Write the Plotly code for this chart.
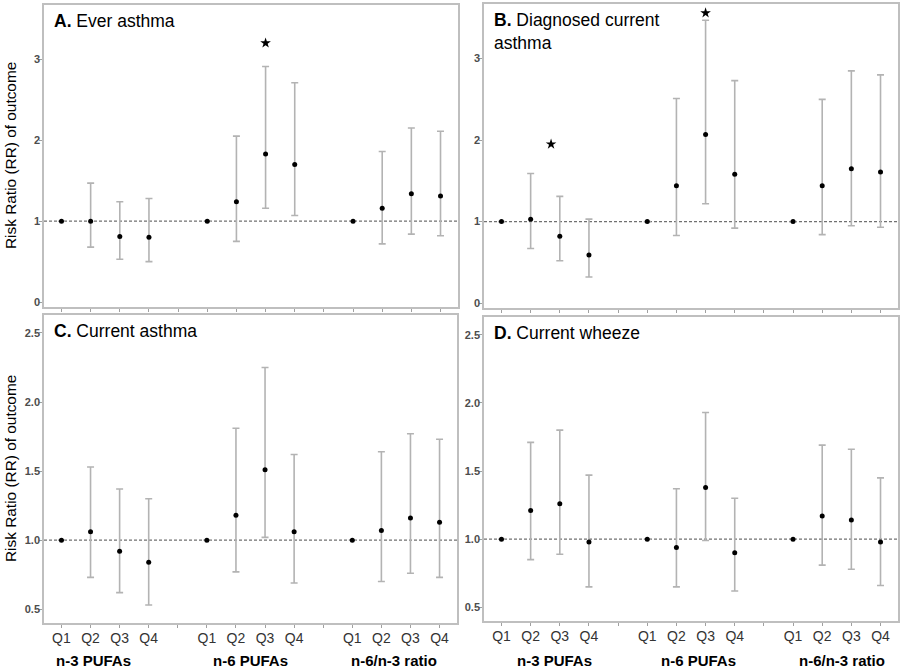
"""Risk ratios of asthma outcomes by PUFA quartile, four panels."""
import plotly.graph_objects as go

# category positions: 3 groups of 4 quartiles, with an empty slot between groups
positions = [1, 2, 3, 4, 6, 7, 8, 9, 11, 12, 13, 14]
quartiles = ["Q1", "Q2", "Q3", "Q4"]
group_labels = ["n-3 PUFAs", "n-6 PUFAs", "n-6/n-3 ratio"]

# A. Ever asthma
a_rr = [1.0, 1.0, 0.81, 0.80, 1.0, 1.24, 1.83, 1.70, 1.0, 1.16, 1.34, 1.31]
a_lo = [None, 0.68, 0.53, 0.50, None, 0.75, 1.16, 1.07, None, 0.72, 0.84, 0.82]
a_hi = [None, 1.47, 1.24, 1.28, None, 2.05, 2.91, 2.71, None, 1.86, 2.15, 2.11]
a_star_x = [8]
a_star_y = [3.20]

# B. Diagnosed current asthma
b_rr = [1.0, 1.03, 0.82, 0.59, 1.0, 1.44, 2.07, 1.58, 1.0, 1.44, 1.65, 1.61]
b_lo = [None, 0.67, 0.52, 0.32, None, 0.83, 1.22, 0.92, None, 0.84, 0.95, 0.93]
b_hi = [None, 1.59, 1.31, 1.03, None, 2.51, 3.47, 2.73, None, 2.50, 2.85, 2.80]
b_star_x = [2.7, 8]
b_star_y = [1.95, 3.56]

# C. Current asthma
c_rr = [1.0, 1.06, 0.92, 0.84, 1.0, 1.18, 1.51, 1.06, 1.0, 1.07, 1.16, 1.13]
c_lo = [None, 0.73, 0.62, 0.53, None, 0.77, 1.02, 0.69, None, 0.70, 0.76, 0.73]
c_hi = [None, 1.53, 1.37, 1.30, None, 1.81, 2.25, 1.62, None, 1.64, 1.77, 1.73]

# D. Current wheeze
d_rr = [1.0, 1.21, 1.26, 0.98, 1.0, 0.94, 1.38, 0.90, 1.0, 1.17, 1.14, 0.98]
d_lo = [None, 0.85, 0.89, 0.65, None, 0.65, 0.99, 0.62, None, 0.81, 0.78, 0.66]
d_hi = [None, 1.71, 1.80, 1.47, None, 1.37, 1.93, 1.30, None, 1.69, 1.66, 1.45]

W, H = 900, 668


def px_x(x):
    return x / W


def px_y(y):
    return 1 - y / H


panels = [
    # name, rr, lo, hi, stars, title, x-domain px, y-domain px, y range, ticks
    ("A", a_rr, a_lo, a_hi, (a_star_x, a_star_y), "<b>A.</b> Ever asthma",
     (44, 458), (5, 307), [-0.06, 3.67], [0, 1, 2, 3], ["0", "1", "2", "3"]),
    ("B", b_rr, b_lo, b_hi, (b_star_x, b_star_y), "<b>B.</b> Diagnosed current<br>asthma",
     (484, 898), (4, 308), [-0.06, 3.67], [0, 1, 2, 3], ["0", "1", "2", "3"]),
    ("C", c_rr, c_lo, c_hi, None, "<b>C.</b> Current asthma",
     (44, 457), (315, 623), [0.40, 2.63], [0.5, 1, 1.5, 2, 2.5], ["0.5", "1.0", "1.5", "2.0", "2.5"]),
    ("D", d_rr, d_lo, d_hi, None, "<b>D.</b> Current wheeze",
     (484, 898), (317, 621), [0.40, 2.63], [0.5, 1, 1.5, 2, 2.5], ["0.5", "1.0", "1.5", "2.0", "2.5"]),
]

fig = go.Figure()
font = "Liberation Sans, Arial, sans-serif"
border = "#bfbfbf"

for i, (name, rr, lo, hi, stars, title, xd, yd, yr, yt, ytt) in enumerate(panels):
    n = "" if i == 0 else str(i + 1)
    xa, ya = "x" + n, "y" + n
    up = [None if h is None else h - r for h, r in zip(hi, rr)]
    down = [None if l is None else r - l for l, r in zip(lo, rr)]

    # reference line at RR = 1
    fig.add_trace(go.Scatter(
        x=[0.4, 14.6], y=[1, 1], mode="lines",
        line={"color": "#707070", "width": 1.2, "dash": "3px,2px"},
        hoverinfo="skip", showlegend=False, xaxis=xa, yaxis=ya,
    ))
    fig.add_trace(go.Scatter(
        x=positions, y=rr, mode="markers",
        marker={"color": "black", "size": 5},
        error_y={"type": "data", "symmetric": False, "array": up, "arrayminus": down,
                 "color": "#b3b3b3", "thickness": 1.6, "width": 3.5},
        showlegend=False, xaxis=xa, yaxis=ya,
    ))
    if stars:
        fig.add_trace(go.Scatter(
            x=stars[0], y=stars[1], mode="markers",
            marker={"symbol": "star", "color": "black", "size": 8},
            hoverinfo="skip", showlegend=False, xaxis=xa, yaxis=ya,
        ))

    bottom = name in ("C", "D")
    ax = dict(
        domain=[px_x(xd[0]), px_x(xd[1])], range=[0.4, 14.6], anchor=ya,
        tickvals=list(range(1, 15)),
        ticktext=(quartiles + [""] + quartiles + [""] + quartiles) if bottom else None,
        showticklabels=bottom, ticks="outside", ticklen=3, tickcolor="#a0a0a0",
        ticklabelstandoff=-2,
        tickfont={"family": font, "size": 14, "color": "#333333"},
        showgrid=False, zeroline=False, showline=True, mirror=True,
        linecolor=border, linewidth=1.5, fixedrange=True,
    )
    ay = dict(
        domain=[px_y(yd[1]), px_y(yd[0])], range=yr, anchor=xa,
        tickvals=yt, ticktext=ytt, ticks="outside", ticklen=3, tickcolor="#a0a0a0",
        ticklabelstandoff=-3,
        tickfont={"family": font, "size": 11, "color": "#4d4d4d", "weight": "bold"},
        showgrid=False, zeroline=False, showline=True, mirror=True,
        linecolor=border, linewidth=1.5, fixedrange=True,
    )
    fig.update_layout({"xaxis" + n: ax, "yaxis" + n: ay})

    fig.add_annotation(
        x=px_x(xd[0] + 8), y=px_y(yd[0] + 4), xref="paper", yref="paper",
        text=title, showarrow=False, xanchor="left", yanchor="top", align="left",
        font={"family": font, "size": 17.5, "color": "black"},
    )

# y-axis titles for left column
for yd in [(5, 307), (315, 623)]:
    fig.add_annotation(
        x=px_x(11), y=px_y((yd[0] + yd[1]) / 2), xref="paper", yref="paper",
        xanchor="center", yanchor="middle",
        text="Risk Ratio (RR) of outcome", textangle=-90, showarrow=False,
        font={"family": font, "size": 15.4, "color": "black"},
    )

# group labels under bottom panels
for xs in [(93, 250, 394), (554, 698, 842)]:
    for xpos, label in zip(xs, group_labels):
        fig.add_annotation(
            x=px_x(xpos), y=px_y(660), xref="paper", yref="paper",
            xanchor="center", yanchor="middle",
            text=f"<b>{label}</b>", showarrow=False,
            font={"family": font, "size": 15, "color": "black"},
        )

fig.update_layout(
    width=W, height=H,
    margin={"l": 0, "r": 0, "t": 0, "b": 0},
    paper_bgcolor="white", plot_bgcolor="white",
    showlegend=False,
)

fig.write_html(
    "out.html",
    config={"displayModeBar": False},
    post_script="document.body.style.margin = '0';",
)
